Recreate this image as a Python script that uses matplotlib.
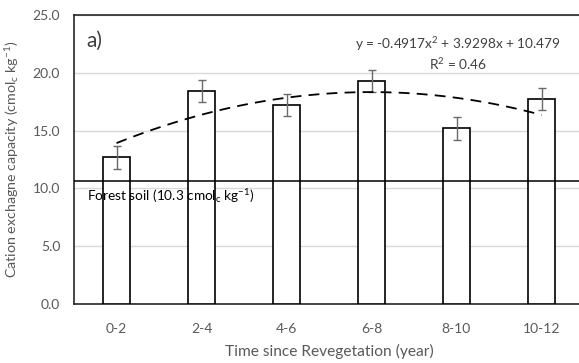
import matplotlib
matplotlib.use("Agg")
import matplotlib.pyplot as plt
import numpy as np

categories = ["0-2", "2-4", "4-6", "6-8", "8-10", "10-12"]
cec_mean = [12.7, 18.4, 17.2, 19.3, 15.2, 17.7]
cec_err = [1.0, 0.95, 0.97, 0.95, 1.0, 0.95]
forest_level = 10.65
trend_coef = [-0.4917, 3.9298, 10.479]
yticks = [0, 5, 10, 15, 20, 25]

plt.rcParams['font.family'] = ['Lato', 'DejaVu Sans']
plt.rcParams['mathtext.default'] = 'regular'

fig = plt.figure(figsize=(5.79, 3.63), dpi=100)
ax = fig.add_axes([74/579, 59/363, 510/579, 289/363])

x = np.arange(len(categories))
ax.bar(x, cec_mean, width=0.31, color='white', edgecolor='black', linewidth=1.2, zorder=3)
ax.errorbar(x, cec_mean, yerr=cec_err, fmt='none', ecolor='#6a6a6a', elinewidth=1.0,
            capsize=2.9, capthick=1.0, zorder=4)

# trendline from the printed equation (x = 1..6)
xs = np.linspace(1, 6, 100)
ys = np.polyval(trend_coef, xs)
ax.plot(xs - 1, ys, color='black', linestyle=(0, (6, 4)), linewidth=1.3, zorder=5)

ax.axhline(forest_level, color='black', linewidth=1.1, zorder=5)

ax.set_xlim(-0.5, 5.5)
ax.set_ylim(0, 25)
ax.set_yticks(yticks)
ax.set_yticklabels([f"{v:.1f}" for v in yticks])
ax.set_xticks(x)
ax.set_xticklabels(categories)
ax.tick_params(axis='both', length=0, labelsize=10, colors='#595959')
ax.tick_params(axis='y', pad=10)
ax.tick_params(axis='x', pad=14)
ax.grid(axis='y', color='#d9d9d9', linewidth=1.0, zorder=0)
ax.set_axisbelow(True)
for s in ax.spines.values():
    s.set_color('#262626')
    s.set_linewidth(1.2)

ax.set_ylabel("Cation exchagne capacity (cmol$_c$ kg$^{-1}$)", fontsize=10.3, color='#595959', labelpad=8)
ax.set_xlabel("Time since Revegetation (year)", fontsize=11.2, color='#595959', labelpad=6)

ax.text(0.024, 0.91, "a)", transform=ax.transAxes, fontsize=15, color='#404040', va='center', ha='left')
ax.text(4.02, 22.45, "y = -0.4917x$^2$ + 3.9298x + 10.479", fontsize=9.8, color='#404040',
        ha='center', va='center')
ax.text(4.02, 20.8, "R$^2$ = 0.46", fontsize=9.8, color='#404040', ha='center', va='center')
ax.text(-0.35, 9.3, "Forest soil (10.3 cmol$_c$ kg$^{-1}$)", fontsize=9.8, color='black',
        ha='left', va='center', zorder=6)

fig.savefig("out.png", dpi=100)
